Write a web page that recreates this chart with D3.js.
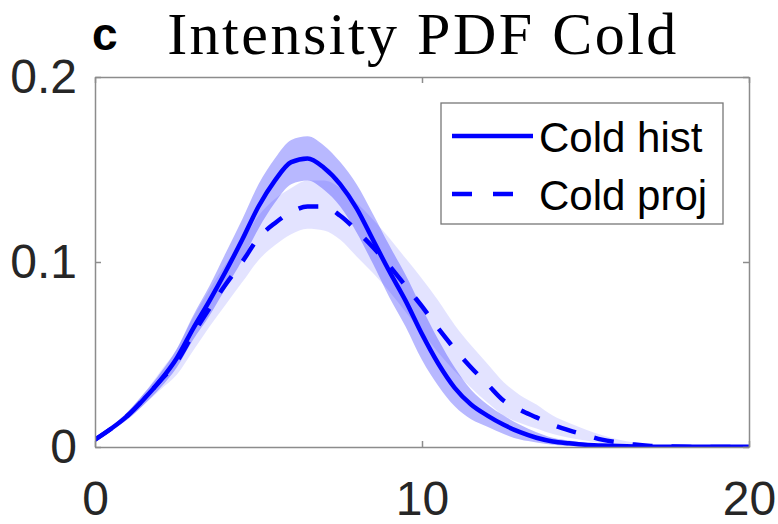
<!DOCTYPE html>
<html>
<head>
<meta charset="utf-8">
<script src="https://cdn.jsdelivr.net/npm/d3@7"></script>
<style>
  html, body { margin: 0; padding: 0; background: #fff; }
  svg { display: block; }
</style>
</head>
<body>
<svg id="chart" width="778" height="524"></svg>
<script>
// Intensity grid (x) and PDF estimates for the cold-season intensity distribution
const intensity = [0, 0.5, 1, 1.5, 2, 2.5, 3, 3.5, 4, 4.5, 5, 5.5, 6, 6.5, 7, 7.5, 8, 8.5, 9, 9.5,
  10, 10.5, 11, 11.5, 12, 12.5, 13, 13.5, 14, 14.5, 15, 15.5, 16, 16.5, 17, 17.5, 18, 18.5, 19, 19.5, 20];

// Historical period: mean PDF with lower/upper envelope
const histMean = [0.004, 0.010, 0.017, 0.026, 0.036, 0.048, 0.064, 0.079, 0.095, 0.112, 0.130, 0.144, 0.154, 0.156, 0.151, 0.142, 0.129, 0.112, 0.095, 0.079,
  0.061, 0.045, 0.032, 0.023, 0.017, 0.012, 0.008, 0.005, 0.003, 0.002, 0.0012, 0.0008, 0.0005, 0.0003, 0.0002, 0.0001, 0.0001, 0.0001, 0.0001, 0.0001, 0.0001];
const histLow = [0.0035, 0.009, 0.015, 0.023, 0.032, 0.043, 0.058, 0.071, 0.086, 0.101, 0.118, 0.132, 0.142, 0.144, 0.139, 0.130, 0.116, 0.099, 0.081, 0.065,
  0.047, 0.033, 0.022, 0.015, 0.011, 0.007, 0.004, 0.0025, 0.0012, 0.0006, 0.0002, 0.0001, 0, 0, 0, 0, 0, 0, 0, 0, 0];
const histHigh = [0.0045, 0.011, 0.019, 0.029, 0.040, 0.053, 0.071, 0.087, 0.105, 0.123, 0.142, 0.156, 0.166, 0.168, 0.163, 0.154, 0.142, 0.126, 0.109, 0.093,
  0.075, 0.058, 0.043, 0.031, 0.023, 0.017, 0.012, 0.008, 0.005, 0.0035, 0.0022, 0.0015, 0.001, 0.0006, 0.0004, 0.0002, 0.0002, 0.0001, 0.0001, 0.0001, 0.0001];

// Projected period: mean PDF with lower/upper envelope
const projMean = [0.004, 0.010, 0.017, 0.026, 0.036, 0.046, 0.061, 0.075, 0.088, 0.100, 0.113, 0.121, 0.127, 0.130, 0.130, 0.125, 0.117, 0.108, 0.098, 0.087,
  0.076, 0.064, 0.053, 0.043, 0.034, 0.025, 0.020, 0.016, 0.012, 0.009, 0.0065, 0.004, 0.0025, 0.0013, 0.0006, 0.0003, 0.0001, 0, 0, 0, 0];
const projLow = [0.0035, 0.009, 0.015, 0.023, 0.031, 0.039, 0.052, 0.065, 0.077, 0.089, 0.101, 0.109, 0.115, 0.118, 0.117, 0.112, 0.103, 0.094, 0.084, 0.073,
  0.062, 0.051, 0.041, 0.032, 0.024, 0.017, 0.013, 0.010, 0.007, 0.005, 0.0035, 0.002, 0.001, 0.0005, 0.0002, 0, 0, 0, 0, 0, 0];
const projHigh = [0.0045, 0.011, 0.019, 0.029, 0.041, 0.053, 0.070, 0.085, 0.099, 0.111, 0.125, 0.134, 0.140, 0.144, 0.144, 0.140, 0.132, 0.123, 0.113, 0.102,
  0.091, 0.079, 0.066, 0.055, 0.045, 0.035, 0.028, 0.023, 0.017, 0.013, 0.0095, 0.0065, 0.004, 0.0024, 0.0013, 0.0007, 0.0003, 0.0001, 0, 0, 0];

const xTicks = [0, 10, 20];
const yTicks = [0, 0.1, 0.2];
const seriesNames = ["Cold hist", "Cold proj"];
const titleText = "Intensity PDF Cold";
const panelLetter = "c";

const svg = d3.select("#chart");
const plot = { left: 95, right: 749, top: 77, bottom: 447 };

const x = d3.scaleLinear().domain([0, 20]).range([plot.left, plot.right]);
const y = d3.scaleLinear().domain([0, 0.2]).range([plot.bottom, plot.top]);

const blue = "#0000ff";
const axisGray = "#8c8c8c";
const textDark = "#262626";

svg.append("defs").append("clipPath").attr("id", "plotClip")
  .append("rect")
  .attr("x", plot.left).attr("y", plot.top)
  .attr("width", plot.right - plot.left).attr("height", plot.bottom - plot.top);

const rows = intensity.map((v, i) => ({
  x: v,
  hm: histMean[i], hl: histLow[i], hh: histHigh[i],
  pm: projMean[i], pl: projLow[i], ph: projHigh[i]
}));

const g = svg.append("g").attr("clip-path", "url(#plotClip)");

const band = (lo, hi) => d3.area()
  .x(d => x(d.x)).y0(d => y(d[lo])).y1(d => y(d[hi]))
  .curve(d3.curveMonotoneX);
const line = key => d3.line()
  .x(d => x(d.x)).y(d => y(d[key]))
  .curve(d3.curveMonotoneX);

// Uncertainty envelopes
g.append("path").datum(rows).attr("d", band("pl", "ph"))
  .attr("fill", blue).attr("fill-opacity", 0.11);
g.append("path").datum(rows).attr("d", band("hl", "hh"))
  .attr("fill", blue).attr("fill-opacity", 0.28);

// Mean curves
g.append("path").datum(rows).attr("d", line("hm"))
  .attr("fill", "none").attr("stroke", blue).attr("stroke-width", 4.5)
  .attr("stroke-linejoin", "round");
g.append("path").datum(rows).attr("d", line("pm"))
  .attr("fill", "none").attr("stroke", blue).attr("stroke-width", 4.5)
  .attr("stroke-dasharray", "20 19");

// Axes box with inward ticks on all four sides
const tickLen = 6;
const bottomAxis = d3.axisBottom(x).tickValues(xTicks).tickSizeInner(-tickLen).tickSizeOuter(0)
  .tickFormat(d3.format("d")).tickPadding(34);
const topAxis = d3.axisTop(x).tickValues(xTicks).tickSizeInner(-tickLen).tickSizeOuter(0)
  .tickFormat("");
const leftAxis = d3.axisLeft(y).tickValues(yTicks).tickSizeInner(-tickLen).tickSizeOuter(0)
  .tickFormat(d => d === 0 ? "0" : d3.format(".1f")(d)).tickPadding(18);
const rightAxis = d3.axisRight(y).tickValues(yTicks).tickSizeInner(-tickLen).tickSizeOuter(0)
  .tickFormat("");

function styleAxis(sel) {
  sel.select(".domain").attr("stroke", axisGray).attr("stroke-width", 1.5);
  sel.selectAll(".tick line").attr("stroke", axisGray).attr("stroke-width", 1.5);
  sel.selectAll(".tick text")
    .attr("fill", textDark)
    .style("font-family", "'Liberation Sans', Arial, sans-serif")
    .style("font-size", "48px");
}

svg.append("g").attr("transform", `translate(0,${plot.bottom})`).call(bottomAxis).call(styleAxis);
svg.append("g").attr("transform", `translate(0,${plot.top})`).call(topAxis).call(styleAxis);
svg.append("g").attr("transform", `translate(${plot.left},0)`).call(leftAxis).call(styleAxis);
svg.append("g").attr("transform", `translate(${plot.right},0)`).call(rightAxis).call(styleAxis);

// Title and panel letter
svg.append("text")
  .attr("x", (plot.left + plot.right) / 2 + 1).attr("y", 54)
  .attr("text-anchor", "middle")
  .style("font-family", "'Liberation Serif', 'DejaVu Serif', serif")
  .style("font-size", "60px")
  .style("letter-spacing", "2.5px")
  .attr("fill", "#000")
  .text(titleText);
svg.append("text")
  .attr("x", 92).attr("y", 50)
  .style("font-family", "'Liberation Sans', Arial, sans-serif")
  .style("font-size", "46px").style("font-weight", "bold")
  .attr("fill", "#000")
  .text(panelLetter);

// Legend
const legend = svg.append("g");
legend.append("rect")
  .attr("x", 441).attr("y", 103).attr("width", 282).attr("height", 121)
  .attr("fill", "#fff").attr("stroke", "#777").attr("stroke-width", 1.3);
const legendRows = [
  { name: seriesNames[0], dash: null, y: 136 },
  { name: seriesNames[1], dash: "20 21", y: 194 }
];
legendRows.forEach(r => {
  legend.append("line")
    .attr("x1", 452).attr("x2", 533).attr("y1", r.y).attr("y2", r.y)
    .attr("stroke", blue).attr("stroke-width", 4.5)
    .attr("stroke-dasharray", r.dash);
  legend.append("text")
    .attr("x", 539).attr("y", r.y + 16)
    .style("font-family", "'Liberation Sans', Arial, sans-serif")
    .style("font-size", "42px")
    .attr("fill", "#000")
    .text(r.name);
});
</script>
</body>
</html>
